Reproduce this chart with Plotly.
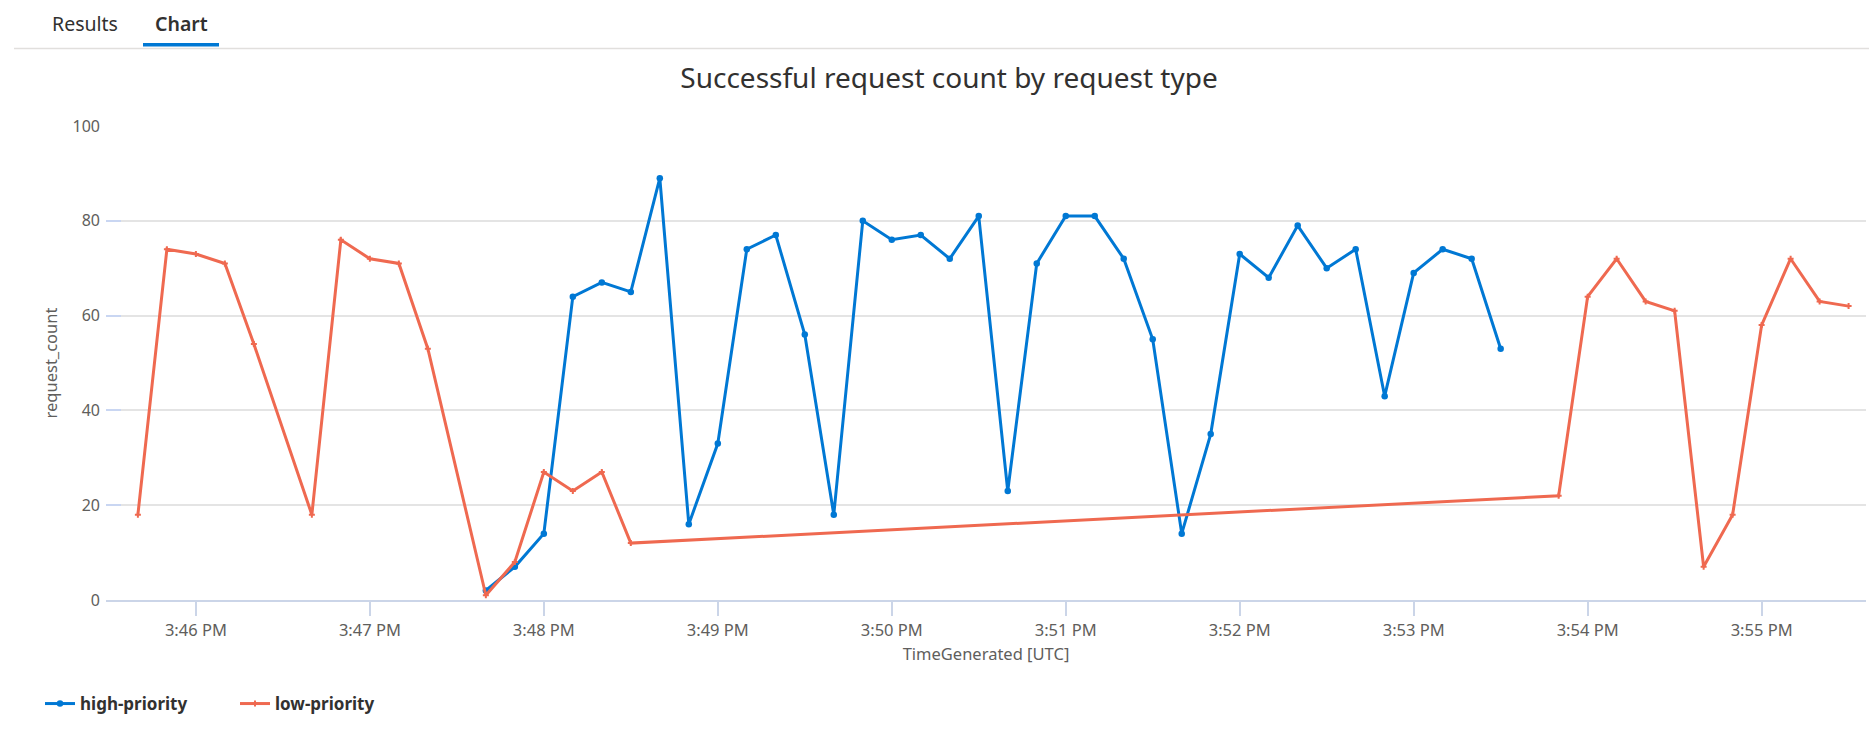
import plotly.graph_objects as go

# ---------------- data ----------------
high_times = [
    "2024-01-01 15:47:40", "2024-01-01 15:47:50", "2024-01-01 15:48:00", "2024-01-01 15:48:10",
    "2024-01-01 15:48:20", "2024-01-01 15:48:30", "2024-01-01 15:48:40", "2024-01-01 15:48:50",
    "2024-01-01 15:49:00", "2024-01-01 15:49:10", "2024-01-01 15:49:20", "2024-01-01 15:49:30",
    "2024-01-01 15:49:40", "2024-01-01 15:49:50", "2024-01-01 15:50:00", "2024-01-01 15:50:10",
    "2024-01-01 15:50:20", "2024-01-01 15:50:30", "2024-01-01 15:50:40", "2024-01-01 15:50:50",
    "2024-01-01 15:51:00", "2024-01-01 15:51:10", "2024-01-01 15:51:20", "2024-01-01 15:51:30",
    "2024-01-01 15:51:40", "2024-01-01 15:51:50", "2024-01-01 15:52:00", "2024-01-01 15:52:10",
    "2024-01-01 15:52:20", "2024-01-01 15:52:30", "2024-01-01 15:52:40", "2024-01-01 15:52:50",
    "2024-01-01 15:53:00", "2024-01-01 15:53:10", "2024-01-01 15:53:20", "2024-01-01 15:53:30",
]
high_counts = [2, 7, 14, 64, 67, 65, 89, 16, 33, 74, 77, 56, 18, 80, 76, 77, 72, 81, 23, 71,
               81, 81, 72, 55, 14, 35, 73, 68, 79, 70, 74, 43, 69, 74, 72, 53]

low_times = [
    "2024-01-01 15:45:40", "2024-01-01 15:45:50", "2024-01-01 15:46:00", "2024-01-01 15:46:10",
    "2024-01-01 15:46:20", "2024-01-01 15:46:40", "2024-01-01 15:46:50", "2024-01-01 15:47:00",
    "2024-01-01 15:47:10", "2024-01-01 15:47:20", "2024-01-01 15:47:40", "2024-01-01 15:47:50",
    "2024-01-01 15:48:00", "2024-01-01 15:48:10", "2024-01-01 15:48:20", "2024-01-01 15:48:30",
    "2024-01-01 15:53:50", "2024-01-01 15:54:00", "2024-01-01 15:54:10", "2024-01-01 15:54:20",
    "2024-01-01 15:54:30", "2024-01-01 15:54:40", "2024-01-01 15:54:50", "2024-01-01 15:55:00",
    "2024-01-01 15:55:10", "2024-01-01 15:55:20", "2024-01-01 15:55:30",
]
low_counts = [18, 74, 73, 71, 54, 18, 76, 72, 71, 53, 1, 8, 27, 23, 27, 12,
              22, 64, 72, 63, 61, 7, 18, 58, 72, 63, 62]

series_names = ["high-priority", "low-priority"]
tab_labels = ["Results", "Chart"]
chart_title = "Successful request count by request type"
x_title = "TimeGenerated [UTC]"
y_title = "request_count"
x_range = ["2024-01-01 15:45:29", "2024-01-01 15:55:36"]
y_range = [0, 100]

# ---------------- layout geometry ----------------
W, H = 1869, 733
PL, PR, PT, PB = 106, 1866, 126, 600  # plot area in pixels

def px(x):
    return (x - PL) / (PR - PL)

def py(y):
    return (PB - y) / (PB - PT)

FONT = "Noto Sans"
BLUE = "#0078d4"
ORANGE = "#ef6950"

fig = go.Figure()
fig.add_trace(go.Scatter(
    x=high_times, y=high_counts, name=series_names[0], mode="lines+markers",
    line=dict(color=BLUE, width=3), marker=dict(symbol="circle", size=6.5, color=BLUE),
))
fig.add_trace(go.Scatter(
    x=low_times, y=low_counts, name=series_names[1], mode="lines+markers",
    line=dict(color=ORANGE, width=3), marker=dict(symbol="cross", size=5, color=ORANGE),
))

fig.update_layout(
    width=W, height=H,
    margin=dict(l=PL, r=W - PR, t=PT, b=H - PB, autoexpand=False),
    paper_bgcolor="white", plot_bgcolor="white",
    font=dict(family=FONT, color="#605e5c"),
    title=dict(text=chart_title, x=949 / W, xanchor="center", y=1 - 78 / H, yanchor="middle",
               yref="container", font=dict(size=28, color="#323130", family=FONT)),
    showlegend=True,
    legend=dict(orientation="h", x=px(40), xanchor="left", y=py(704), yanchor="middle",
                font=dict(size=17, color="#323130", family=FONT, weight="bold"),
                entrywidth=150, entrywidthmode="pixels", itemwidth=30,
                bgcolor="rgba(0,0,0,0)", borderwidth=0),
    hovermode="x",
)

fig.update_xaxes(
    type="date", range=x_range, dtick=60000, tick0="2024-01-01 15:46:00",
    tickformat="%-I:%M %p", showgrid=False, zeroline=False,
    showline=True, linecolor="#cbd5e8", linewidth=1.5,
    ticks="outside", ticklen=14, tickcolor="#cbd5e8", tickwidth=1.5,
    tickfont=dict(size=16.5, color="#605e5c", family=FONT),
    title=dict(text=x_title, font=dict(size=16.5, color="#605e5c", family=FONT), standoff=9),
)
fig.update_yaxes(
    range=y_range, dtick=20, tick0=0, showgrid=True, gridcolor="#e4e4e4", gridwidth=1.5,
    zeroline=False, showline=False,
    ticks="inside", ticklen=15, tickcolor="#c9d6f2", tickwidth=1.5,
    ticklabelstandoff=5,
    tickfont=dict(size=16, color="#605e5c", family=FONT),
    title=dict(text=y_title, font=dict(size=16.5, color="#605e5c", family=FONT), standoff=10),
)

# ---------------- tab header ----------------
fig.add_annotation(text=tab_labels[0], xref="paper", yref="paper", x=px(85), y=py(24),
                   xanchor="center", yanchor="middle", showarrow=False,
                   font=dict(size=19.5, color="#323130", family=FONT))
fig.add_annotation(text=tab_labels[1], xref="paper", yref="paper", x=px(181), y=py(24),
                   xanchor="center", yanchor="middle", showarrow=False,
                   font=dict(size=19.5, color="#323130", family=FONT, weight=600))
fig.add_shape(type="line", xref="paper", yref="paper", x0=px(14), x1=px(W), y0=py(48.5), y1=py(48.5),
              line=dict(color="#e1dfdd", width=1.5))
fig.add_shape(type="rect", xref="paper", yref="paper", x0=px(143), x1=px(219), y0=py(43), y1=py(46.5),
              line=dict(width=0), fillcolor=BLUE)

fig.write_html("out.html")
